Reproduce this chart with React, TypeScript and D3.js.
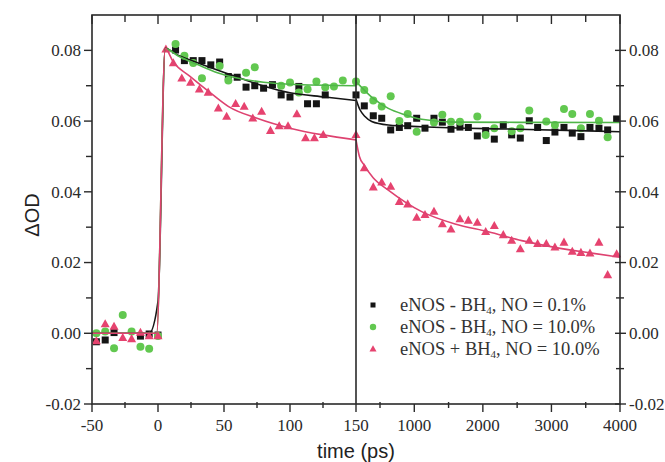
import React from "react";
import * as d3 from "d3";

// ---------- data ----------
// left panel (ps, linear -50..150)
const blackLeftT = [-46.7, -40, -33.3, -13.3, -6.7, 0, 13.3, 20, 26.7, 33.3, 40, 46.7, 53.3, 60, 66.7, 73.3, 80, 86.7, 93.3, 100, 106.7, 113.3, 120, 126.7];
const blackLeftV = [-0.0024, -0.0019, 0.0002, -0.0008, -0.0002, -0.0005, 0.0801, 0.0771, 0.0771, 0.0771, 0.0759, 0.0767, 0.0726, 0.0724, 0.0696, 0.07, 0.0693, 0.0703, 0.0674, 0.0668, 0.0698, 0.0649, 0.0649, 0.0674];

const greenLeftT = [-46.7, -40, -33.3, -26.7, -20, -13.3, -6.7, 0, 13.3, 20, 26.7, 33.3, 46.7, 53.3, 66.7, 73.3, 93.3, 100, 106.7, 113.3, 120, 126.7, 133.3, 140];
const greenLeftV = [0.0, 0.0005, -0.0042, 0.0052, 0.0005, -0.0038, -0.0044, -0.0008, 0.0818, 0.0785, 0.0764, 0.0721, 0.0756, 0.0715, 0.0737, 0.0752, 0.07, 0.0709, 0.0681, 0.069, 0.0712, 0.0696, 0.0698, 0.0715];

const redLeftT = [-46.7, -40, -33.3, -26.7, -20, -13.3, -6.7, 0, 6, 11.6, 18, 24.7, 31.3, 38, 45.7, 52, 58.8, 65.3, 71.8, 78.5, 85.2, 91.8, 98.5, 105.2, 111.8, 118.5, 125.2];
const redLeftV = [-0.0022, 0.0026, 0.0019, -0.0013, -0.0016, 0.0002, -0.0008, -0.0008, 0.0803, 0.0764, 0.0721, 0.0709, 0.069, 0.0681, 0.0636, 0.0613, 0.0649, 0.0641, 0.0608, 0.0627, 0.0573, 0.0586, 0.0586, 0.062, 0.0552, 0.0552, 0.0561];

// right panel (ps, linear 150..4000)
const rightT = [150, 271, 402, 525, 656, 782, 904, 1035, 1156, 1287, 1409, 1535, 1666, 1788, 1919, 2041, 2167, 2298, 2420, 2546, 2677, 2799, 2925, 3051, 3183, 3304, 3430, 3562, 3693, 3820, 3951];
const blackRightV = [0.0674, 0.0643, 0.0615, 0.0608, 0.0575, 0.0582, 0.0587, 0.0608, 0.058, 0.0608, 0.0597, 0.0577, 0.0583, 0.0582, 0.0558, 0.0573, 0.0549, 0.0589, 0.0561, 0.0552, 0.0601, 0.0582, 0.0545, 0.0569, 0.0582, 0.0566, 0.0556, 0.0582, 0.058, 0.0575, 0.0606];
const greenRightV = [0.0712, 0.0688, 0.0658, 0.0641, 0.067, 0.06, 0.062, 0.057, null, 0.0596, 0.0618, 0.0598, 0.0598, null, 0.0613, 0.0561, 0.058, null, 0.0571, 0.058, 0.063, null, 0.0599, 0.0589, 0.0634, 0.062, 0.058, 0.062, 0.0601, 0.0554, null];
const redRightV = [0.0561, 0.0467, 0.0413, 0.0427, 0.0415, 0.0372, 0.0365, 0.0327, 0.0335, 0.0344, 0.0309, 0.0294, 0.0323, 0.0319, 0.0313, 0.0287, 0.0304, 0.0278, 0.0262, 0.0238, 0.0262, 0.0253, 0.0253, 0.0243, 0.0257, 0.0231, 0.0228, 0.0226, 0.0257, 0.0165, 0.0224];

// fit curves
const blackFitLT = [-50, -6.7, 0, 5.5, 13.3, 30, 53.5, 75, 100, 126.5, 150];
const blackFitLV = [0, 0, 0.009, 0.0806, 0.079, 0.0765, 0.0733, 0.0705, 0.068, 0.0668, 0.0658];
const greenFitLT = [-50, -1, 5.5, 15, 30, 45, 60, 80, 100, 150];
const greenFitLV = [0, 0, 0.0805, 0.0785, 0.076, 0.0737, 0.0722, 0.071, 0.0704, 0.07];
const redFitLT = [-50, -1, 5.5, 11.6, 24, 40, 53.5, 75, 100, 125, 150];
const redFitLV = [0, 0, 0.0805, 0.0767, 0.0727, 0.0679, 0.0641, 0.0608, 0.058, 0.0561, 0.0547];

const blackFitRT = [150, 208, 281, 379, 621, 1108, 2500, 4000];
const blackFitRV = [0.0662, 0.0632, 0.0613, 0.0599, 0.0589, 0.0584, 0.0577, 0.057];
const greenFitRT = [150, 379, 621, 864, 1108, 1594, 4000];
const greenFitRV = [0.0712, 0.0668, 0.0636, 0.0618, 0.0605, 0.0597, 0.0596];
const redFitRT = [150, 200, 271, 400, 621, 1108, 1594, 2080, 2566, 3051, 3537, 4000];
const redFitRV = [0.0547, 0.05, 0.0475, 0.044, 0.0405, 0.0344, 0.0309, 0.0287, 0.0262, 0.0243, 0.0228, 0.0215];

const yMajor = [-0.02, 0, 0.02, 0.04, 0.06, 0.08];
const yMinor = [-0.01, 0.01, 0.03, 0.05, 0.07];
const xLMajor = [-50, 0, 50, 100, 150];
const xLMinor = [-25, 25, 75, 125];
const xRMajor = [1000, 2000, 3000, 4000];
const xRMinor = [500, 1500, 2500, 3500];

const legendLabels = [
  ["eNOS - BH", "4", ", NO = 0.1%"],
  ["eNOS - BH", "4", ", NO = 10.0%"],
  ["eNOS + BH", "4", ", NO = 10.0%"],
];

// ---------- styles ----------
const W = 665, H = 462;
const L = 92, M = 356, R = 620, T = 15, B = 404;
const C_BLACK = "#151515";
const C_GREEN = "#62c850";
const C_RED = "#e6436f";
const C_GREEN_LINE = "#4fb548";
const C_RED_LINE = "#de4270";
const AX = "#2a2a2a";
const SERIF = "'Liberation Serif', 'Times New Roman', serif";
const SANS = "'Liberation Sans', Arial, sans-serif";

const xL = d3.scaleLinear().domain([-50, 150]).range([L, M]);
const xR = d3.scaleLinear().domain([150, 4000]).range([M, R]);
const y = d3.scaleLinear().domain([-0.02, 0.09]).range([B, T]);

function pairs(ts: number[], vs: (number | null)[]) {
  const out: [number, number][] = [];
  ts.forEach((t, i) => {
    const v = vs[i];
    if (v !== null && v !== undefined) out.push([t, v]);
  });
  return out;
}

function Square({ cx, cy, s, fill }: any) {
  return <rect x={cx - s / 2} y={cy - s / 2} width={s} height={s} fill={fill} />;
}
function Dot({ cx, cy, r, fill }: any) {
  return <circle cx={cx} cy={cy} r={r} fill={fill} />;
}
function Tri({ cx, cy, s, fill }: any) {
  const h = s * 0.9;
  return <path d={`M${cx},${cy - h * 0.6}L${cx + s / 2},${cy + h * 0.4}L${cx - s / 2},${cy + h * 0.4}Z`} fill={fill} />;
}

export default function App() {
  const lineL = d3.line<[number, number]>().x((d) => xL(d[0])).y((d) => y(d[1])).curve(d3.curveMonotoneX);
  const lineR = d3.line<[number, number]>().x((d) => xR(d[0])).y((d) => y(d[1])).curve(d3.curveMonotoneX);

  const bL = pairs(blackLeftT, blackLeftV);
  const gL = pairs(greenLeftT, greenLeftV);
  const rL = pairs(redLeftT, redLeftV);
  const bR = pairs(rightT, blackRightV);
  const gR = pairs(rightT, greenRightV);
  const rR = pairs(rightT, redRightV);

  const legendY = [305, 327, 349];

  return (
    <svg width={W} height={H} style={{ position: "absolute", left: 0, top: 0, background: "#fff" }}>
      <defs>
        <clipPath id="clipL"><rect x={L} y={T} width={M - L} height={B - T} /></clipPath>
        <clipPath id="clipR"><rect x={M} y={T} width={R - M} height={B - T} /></clipPath>
      </defs>

      {/* markers */}
      <g>
        {bL.map((d, i) => <Square key={"bl" + i} cx={xL(d[0])} cy={y(d[1])} s={7} fill={C_BLACK} />)}
        {bR.map((d, i) => <Square key={"br" + i} cx={xR(d[0])} cy={y(d[1])} s={7} fill={C_BLACK} />)}
        {gL.map((d, i) => <Dot key={"gl" + i} cx={xL(d[0])} cy={y(d[1])} r={4} fill={C_GREEN} />)}
        {gR.map((d, i) => <Dot key={"gr" + i} cx={xR(d[0])} cy={y(d[1])} r={4} fill={C_GREEN} />)}
        {rL.map((d, i) => <Tri key={"rl" + i} cx={xL(d[0])} cy={y(d[1])} s={9} fill={C_RED} />)}
        {rR.map((d, i) => <Tri key={"rr" + i} cx={xR(d[0])} cy={y(d[1])} s={9} fill={C_RED} />)}
      </g>

      {/* fit lines */}
      <g fill="none" strokeWidth={1.6}>
        <path clipPath="url(#clipL)" d={lineL(pairs(blackFitLT, blackFitLV)) || ""} stroke={C_BLACK} />
        <path clipPath="url(#clipL)" d={lineL(pairs(greenFitLT, greenFitLV)) || ""} stroke={C_GREEN_LINE} />
        <path clipPath="url(#clipL)" d={lineL(pairs(redFitLT, redFitLV)) || ""} stroke={C_RED_LINE} />
        <path clipPath="url(#clipR)" d={lineR(pairs(blackFitRT, blackFitRV)) || ""} stroke={C_BLACK} />
        <path clipPath="url(#clipR)" d={lineR(pairs(greenFitRT, greenFitRV)) || ""} stroke={C_GREEN_LINE} />
        <path clipPath="url(#clipR)" d={lineR(pairs(redFitRT, redFitRV)) || ""} stroke={C_RED_LINE} />
      </g>

      {/* frame */}
      <g stroke={AX} strokeWidth={1.6} fill="none">
        <rect x={L} y={T} width={R - L} height={B - T} />
        <line x1={M} x2={M} y1={T} y2={B} />
      </g>

      {/* ticks */}
      <g stroke={AX} strokeWidth={1.4}>
        {yMajor.map((v) => <line key={"ylM" + v} x1={L - 8} x2={L} y1={y(v)} y2={y(v)} />)}
        {yMinor.map((v) => <line key={"ylm" + v} x1={L - 6} x2={L} y1={y(v)} y2={y(v)} />)}
        {yMajor.map((v) => <line key={"yrM" + v} x1={R - 5} x2={R + 6} y1={y(v)} y2={y(v)} />)}
        {yMinor.map((v) => <line key={"yrm" + v} x1={R - 4} x2={R + 4} y1={y(v)} y2={y(v)} />)}
        {xLMajor.map((v) => <line key={"xlb" + v} x1={xL(v)} x2={xL(v)} y1={B} y2={B + 8} />)}
        {xLMinor.map((v) => <line key={"xlbm" + v} x1={xL(v)} x2={xL(v)} y1={B - 2} y2={B + 4} />)}
        {xRMajor.map((v) => <line key={"xrb" + v} x1={xR(v)} x2={xR(v)} y1={B} y2={B + 8} />)}
        {xRMinor.map((v) => <line key={"xrbm" + v} x1={xR(v)} x2={xR(v)} y1={B - 2} y2={B + 4} />)}
        {xLMajor.map((v) => <line key={"xlt" + v} x1={xL(v)} x2={xL(v)} y1={T} y2={T + 9} />)}
        {xLMinor.map((v) => <line key={"xltm" + v} x1={xL(v)} x2={xL(v)} y1={T} y2={T + 7} />)}
        {xRMajor.map((v) => <line key={"xrt" + v} x1={xR(v)} x2={xR(v)} y1={T} y2={T + 9} />)}
        {xRMinor.map((v) => <line key={"xrtm" + v} x1={xR(v)} x2={xR(v)} y1={T} y2={T + 7} />)}
      </g>

      {/* tick labels */}
      <g fontFamily={SERIF} fontSize={17} fill="#2a2a2a">
        {yMajor.map((v) => (
          <text key={"yl" + v} x={L - 11} y={y(v)} dy="0.35em" textAnchor="end">{v.toFixed(2)}</text>
        ))}
        {yMajor.map((v) => (
          <text key={"yr" + v} x={R + 9} y={y(v)} dy="0.35em" textAnchor="start">{v.toFixed(2)}</text>
        ))}
        {xLMajor.map((v) => (
          <text key={"xl" + v} x={xL(v)} y={431} textAnchor="middle">{String(v)}</text>
        ))}
        {xRMajor.map((v) => (
          <text key={"xr" + v} x={xR(v)} y={431} textAnchor="middle">{String(v)}</text>
        ))}
      </g>

      {/* axis titles */}
      <text x={M} y={458} textAnchor="middle" fontFamily={SANS} fontSize={20} fill="#222">time (ps)</text>
      <text transform={`translate(39,215) rotate(-90)`} textAnchor="middle" fontFamily={SANS} fontSize={20} fill="#222">ΔOD</text>

      {/* legend */}
      <g fontFamily={SERIF} fontSize={18.5} fill="#333">
        <Square cx={373} cy={legendY[0]} s={5} fill={C_BLACK} />
        <Dot cx={373} cy={legendY[1]} r={3.2} fill={C_GREEN} />
        <Tri cx={373} cy={legendY[2]} s={7} fill={C_RED} />
        {legendLabels.map((lab, i) => (
          <text key={"lg" + i} x={400} y={legendY[i]} dy="0.33em">
            {lab[0]}
            <tspan fontSize={11} dy={3}>{lab[1]}</tspan>
            <tspan dy={-3}>{lab[2]}</tspan>
          </text>
        ))}
      </g>
    </svg>
  );
}
